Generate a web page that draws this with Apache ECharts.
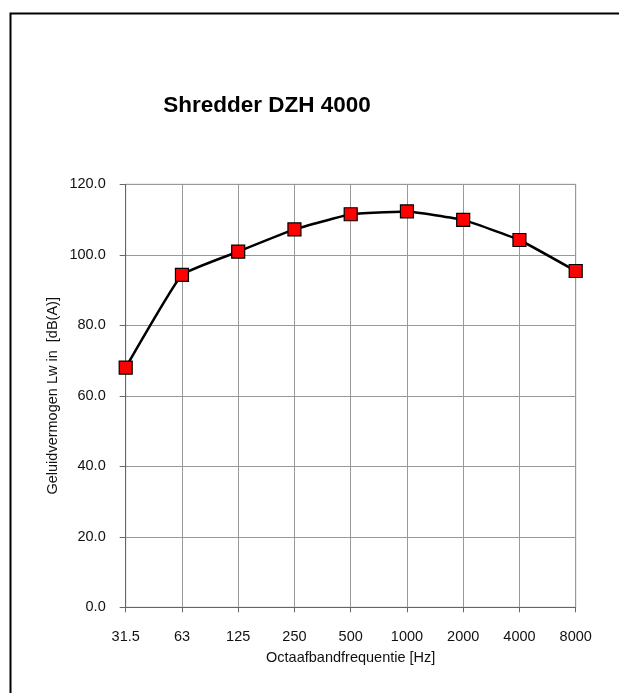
<!DOCTYPE html>
<html><head><meta charset="utf-8">
<script src="https://cdn.jsdelivr.net/npm/echarts@6/dist/echarts.min.js"></script>
<style>html,body{margin:0;padding:0;background:#fff}#c{width:619px;height:693px}</style>
</head><body><div id="c"></div>
<script>
const categories = ['31.5','63','125','250','500','1000','2000','4000','8000'];
const levels = [68.0, 94.3, 100.9, 107.2, 111.5, 112.3, 109.9, 104.2, 95.4];
const yTicks = {min: 0, max: 120, interval: 20};
const titleText = 'Shredder DZH 4000';
const xName = 'Octaafbandfrequentie [Hz]';
const yName = 'Geluidvermogen Lw in  [dB(A)]';

const chart = echarts.init(document.getElementById('c'), null, {renderer: 'canvas'});
const font = 'Liberation Sans, Arial, Helvetica, sans-serif';
chart.setOption({
  animation: false,
  backgroundColor: '#fff',
  graphic: [{type: 'rect', left: 8, top: 11, shape: {x: 0, y: 0, width: 640, height: 720},
    style: {fill: 'none', stroke: '#000', lineWidth: 2}, silent: true}],
  title: {text: titleText, left: 262, top: 89, textAlign: 'center',
    textStyle: {fontFamily: font, fontSize: 22.5, fontWeight: 'bold', color: '#000'}},
  grid: {left: 125.7, right: 43.3, top: 184.3, bottom: 85.7, show: true, borderColor: '#999', borderWidth: 1},
  xAxis: {type: 'category', data: categories, boundaryGap: false,
    name: xName, nameLocation: 'middle', nameGap: 43, nameMoveOverlap: false,
    nameTextStyle: {fontFamily: font, fontSize: 14.5, color: '#111'},
    axisLine: {lineStyle: {color: '#666', width: 1}},
    axisTick: {show: true, length: 5, lineStyle: {color: '#666'}},
    axisLabel: {fontFamily: font, fontSize: 14.5, color: '#111', margin: 22},
    splitLine: {show: true, lineStyle: {color: '#999', width: 1}}},
  yAxis: {type: 'value', min: yTicks.min, max: yTicks.max, interval: yTicks.interval,
    name: yName, nameLocation: 'middle', nameGap: 65, nameMoveOverlap: false,
    nameTextStyle: {fontFamily: font, fontSize: 14.5, color: '#111'},
    axisLine: {show: true, lineStyle: {color: '#666', width: 1}},
    axisTick: {show: true, length: 6, lineStyle: {color: '#666'}},
    axisLabel: {fontFamily: font, fontSize: 14.5, color: '#111', margin: 20,
      formatter: v => v.toFixed(1)},
    splitLine: {show: true, lineStyle: {color: '#999', width: 1}}},
  series: [{type: 'line', data: levels, smooth: 0.1,
    lineStyle: {color: '#000', width: 2.5},
    symbol: 'rect', symbolSize: 13,
    itemStyle: {color: '#ff0000', borderColor: '#000', borderWidth: 1.2}}]
});
</script></body></html>
